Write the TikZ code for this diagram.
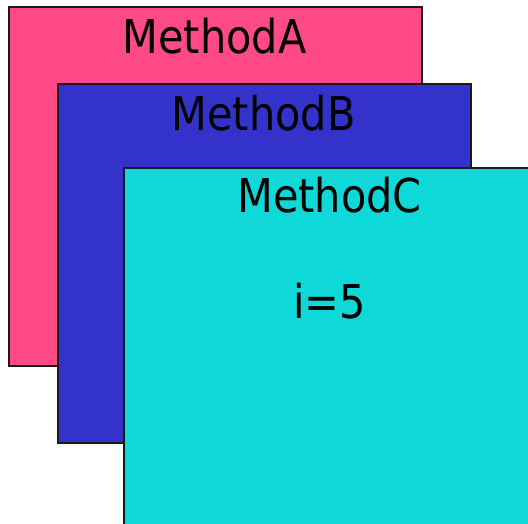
\documentclass[tikz,border=0pt]{standalone}
\usepackage{fontspec}
\setmainfont{DejaVu Sans}[FakeStretch=0.89]
\definecolor{pinkA}{RGB}{255,74,135}
\definecolor{blueB}{RGB}{51,51,204}
\definecolor{cyanC}{RGB}{14,216,216}
\begin{document}
\begin{tikzpicture}[x=1pt,y=-1pt,
  panel/.style={draw=black!90,line width=2pt,anchor=north west,inner sep=0pt,
    minimum width=413pt,minimum height=359pt},
  lbl/.style={anchor=base,inner sep=0pt,font=\fontsize{46.6}{50}\selectfont}]
\useasboundingbox (0,0) rectangle (528,523);
\begin{scope}
\clip (0,0) rectangle (528,523);
\node[panel,fill=pinkA] (A) at (8,6) {};
\node[panel,fill=blueB] (B) at (57,83) {};
\node[panel,fill=cyanC] (C) at (123,167) {};
\end{scope}
\node[lbl] (tA) at (214.5,53) {MethodA};
\node[lbl] (tB) at (263.5,130) {MethodB};
\node[lbl] (tC) at (329.5,212) {MethodC};
\node[lbl] (tI) at (329.5,318) {i=5};
\end{tikzpicture}
\end{document}
